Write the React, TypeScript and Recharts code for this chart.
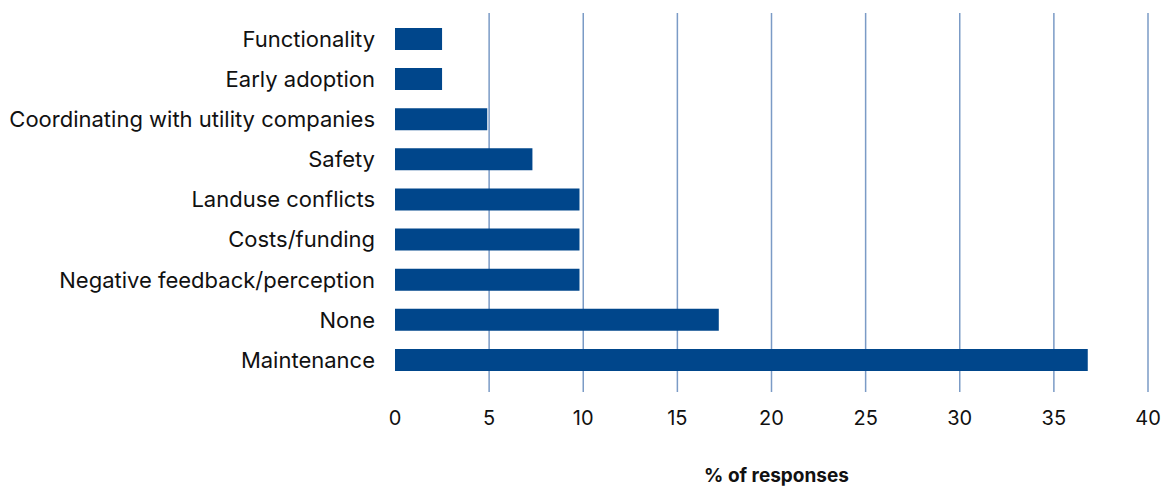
import React from "react";
import { BarChart, Bar, XAxis, YAxis, CartesianGrid, Label } from "recharts";

const categories = [
  "Functionality",
  "Early adoption",
  "Coordinating with utility companies",
  "Safety",
  "Landuse conflicts",
  "Costs/funding",
  "Negative feedback/perception",
  "None",
  "Maintenance",
];
const shares = [2.5, 2.5, 4.9, 7.3, 9.8, 9.8, 9.8, 17.2, 36.8];
const xTicks = [0, 5, 10, 15, 20, 25, 30, 35, 40];
const gridValues = [5, 10, 15, 20, 25, 30, 35, 40];

const data = categories.map((name, i) => ({ name, value: shares[i] }));

const FONT = "Inter, 'Noto Sans', sans-serif";

export default function App() {
  return (
    <div style={{ position: "absolute", left: 0, top: 0, width: 1162, height: 486, background: "#fff" }}>
      <BarChart
        width={1162}
        height={486}
        data={data}
        layout="vertical"
        margin={{ top: 13, right: 14, bottom: 0, left: 0 }}
        barSize={22}
      >
        <CartesianGrid horizontal={false} verticalValues={gridValues} stroke="#7b9bc6" strokeWidth={1.5} />
        <XAxis
          type="number"
          domain={[0, 40]}
          ticks={xTicks}
          axisLine={false}
          tickLine={false}
          tickSize={0}
          tickMargin={19}
          height={94}
          tick={{ fontSize: 20, fill: "#111", fontFamily: FONT }}
        >
          <Label
            value="% of responses"
            position="insideBottom"
            offset={4}
            dx={5}
            style={{ fontSize: 19, fontWeight: 700, fill: "#111", fontFamily: FONT }}
          />
        </XAxis>
        <YAxis
          type="category"
          dataKey="name"
          width={395}
          axisLine={false}
          tickLine={false}
          tickSize={0}
          tickMargin={20}
          padding={{ top: 6, bottom: 12 }}
          interval={0}
          tick={{ fontSize: 22, fill: "#111", fontFamily: FONT }}
        />
        <Bar dataKey="value" fill="#00468b" isAnimationActive={false} />
      </BarChart>
    </div>
  );
}
